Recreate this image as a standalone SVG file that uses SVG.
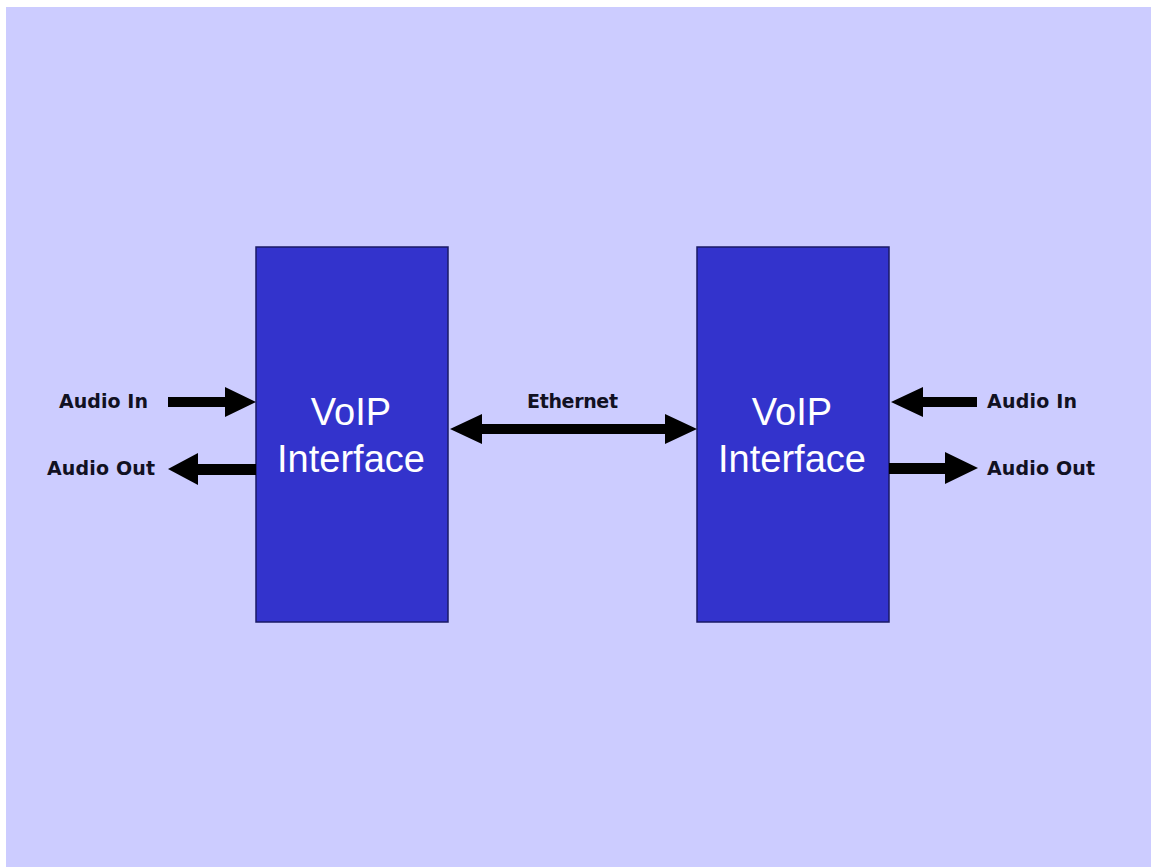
<svg xmlns="http://www.w3.org/2000/svg" width="1151" height="867" viewBox="0 0 1151 867">
<style>
.box{fill:#3333cc;stroke:#1a1a66;stroke-width:1.5}
.title{font-family:"Liberation Sans",Arial,sans-serif;font-size:38px;fill:#ffffff;text-anchor:middle}
.lbl{font-family:"DejaVu Sans",Verdana,sans-serif;font-weight:bold;font-size:19px;fill:#111122}
.arr{fill:#000000}
</style>
<rect x="0" y="0" width="1151" height="867" fill="#ffffff"/>
<rect x="6" y="7" width="1145" height="860" fill="#ccccff"/>
<g id="node-left">
<rect class="box" x="256" y="247" width="192" height="375"/>
<text class="title" x="351" y="425">VoIP</text>
<text class="title" x="351" y="472">Interface</text>
</g>
<g id="node-right">
<rect class="box" x="697" y="247" width="192" height="375"/>
<text class="title" x="792" y="425">VoIP</text>
<text class="title" x="792" y="472">Interface</text>
</g>
<g id="connectors">
<polygon class="arr" points="168,397 225,397 225,387 256,402 225,417 225,407 168,407"/>
<polygon class="arr" points="256,464 198,464 198,453 168,469 198,485 198,475 256,475"/>
<polygon class="arr" points="450,429 482,414 482,424 665,424 665,414 697,429 665,444 665,434 482,434 482,444"/>
<polygon class="arr" points="977,397 923,397 923,387 891,402 923,417 923,407 977,407"/>
<polygon class="arr" points="889,463 945,463 945,452 978,468 945,484 945,474 889,474"/>
</g>
<g id="labels">
<text class="lbl" x="59" y="408" textLength="89">Audio In</text>
<text class="lbl" x="47" y="475" textLength="108">Audio Out</text>
<text class="lbl" x="527" y="408" textLength="91">Ethernet</text>
<text class="lbl" x="987" y="408" textLength="90">Audio In</text>
<text class="lbl" x="987" y="475" textLength="108">Audio Out</text>
</g>
</svg>
